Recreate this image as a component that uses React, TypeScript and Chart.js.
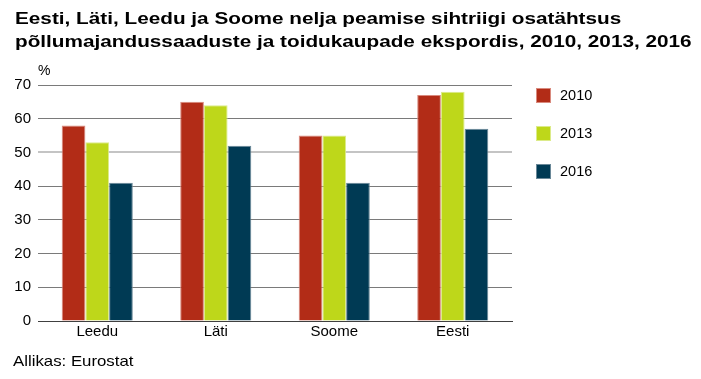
import React, { useEffect, useRef } from "react";
import { Chart, registerables } from "chart.js";

Chart.register(...registerables);

const title = [
  "Eesti, Läti, Leedu ja Soome nelja peamise sihtriigi osatähtsus",
  "põllumajandussaaduste ja toidukaupade ekspordis, 2010, 2013, 2016",
];
const source = "Allikas: Eurostat";
const unit = "%";
const categories = ["Leedu", "Läti", "Soome", "Eesti"];
const seriesNames = ["2010", "2013", "2016"];
const values2010 = [58, 65, 55, 67];
const values2013 = [53, 64, 55, 68];
const values2016 = [41, 52, 41, 57];
const colors = ["#B22C17", "#BED71A", "#003A54"];
const borders = ["#D98A7E", "#DCEB8A", "#6A8898"];

const FONT = "'Liberation Sans', Arial, sans-serif";

export default function App() {
  const ref = useRef<HTMLCanvasElement | null>(null);
  useEffect(() => {
    document.body.style.margin = "0";
    const seriesValues = [values2010, values2013, values2016];
    const chart = new Chart(ref.current!, {
      type: "bar",
      data: {
        labels: categories,
        datasets: seriesNames.map((n, i) => ({
          label: n,
          data: seriesValues[i],
          backgroundColor: colors[i],
          borderColor: borders[i],
          borderWidth: { top: 1, left: 1, right: 1, bottom: 0 },
          categoryPercentage: 0.6,
          barPercentage: 1,
        })),
      },
      options: {
        animation: false,
        responsive: false,
        devicePixelRatio: 1,
        layout: { padding: { left: 0, top: 85, right: 189, bottom: 33 } },
        plugins: { legend: { display: false }, tooltip: { enabled: false } },
        scales: {
          x: {
            grid: { display: false, drawTicks: false },
            border: { display: true, color: "#404040", width: 1 },
            ticks: { color: "#000", font: { family: FONT, size: 15 }, padding: 2 },
            afterFit: (s: any) => { s.height = 25; },
          },
          y: {
            min: 0,
            max: 70,
            ticks: { stepSize: 10, color: "#000", font: { family: FONT, size: 15 }, padding: 7 },
            grid: {
              drawTicks: false,
              color: (ctx: any) => (ctx.tick && ctx.tick.value === 50 ? "#c4c4c4" : "#7a7a7a"),
              lineWidth: (ctx: any) => (ctx.tick && ctx.tick.value === 50 ? 2 : 1),
            },
            border: { display: false },
            afterFit: (s: any) => { s.width = 38; },
          },
        },
      },
    });
    return () => chart.destroy();
  }, []);

  return (
    <div style={{ position: "relative", width: 701, height: 379, fontFamily: FONT, color: "#000", background: "#fff" }}>
      <canvas ref={ref} width={701} height={379} style={{ position: "absolute", left: 0, top: 0 }} />
      <div style={{ position: "absolute", left: 15, top: 8, fontWeight: "bold", fontSize: 17, lineHeight: "22.5px", whiteSpace: "nowrap", transform: "scaleX(1.22)", transformOrigin: "0 0" }}>
        {title.map((t, i) => (<div key={i}>{t}</div>))}
      </div>
      <div style={{ position: "absolute", left: 38, top: 62, fontSize: 14 }}>{unit}</div>
      <div style={{ position: "absolute", left: 13, top: 352, fontSize: 15, whiteSpace: "nowrap", transform: "scaleX(1.12)", transformOrigin: "0 0" }}>{source}</div>
      <div style={{ position: "absolute", left: 536, top: 86 }}>
        {seriesNames.map((n, i) => (
          <div key={n} style={{ display: "flex", alignItems: "center", height: 38 }}>
            <div style={{ width: 15, height: 15, background: colors[i], border: `1px solid ${borders[i]}`, boxSizing: "border-box", marginRight: 9, marginTop: -20 }} />
            <div style={{ fontSize: 14.5, marginTop: -20 }}>{n}</div>
          </div>
        ))}
      </div>
    </div>
  );
}
